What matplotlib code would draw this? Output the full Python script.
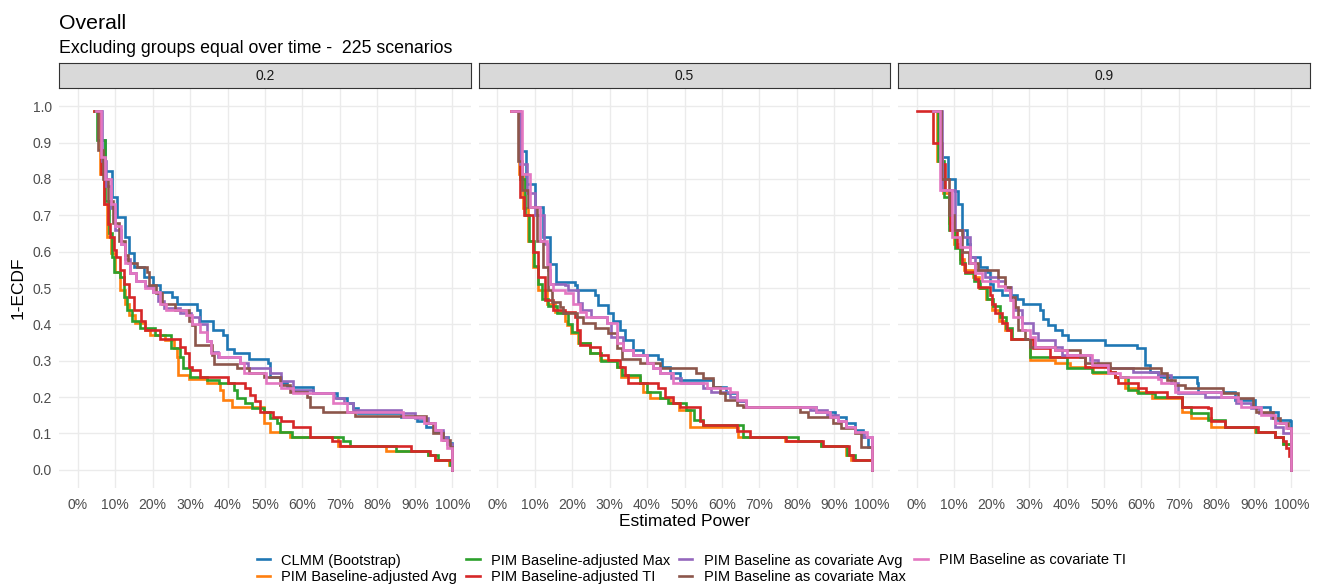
import matplotlib
matplotlib.use("Agg")
import matplotlib.pyplot as plt
import numpy as np

plt.rcParams["font.family"] = ["Liberation Sans", "DejaVu Sans"]

# facet labels and method names
facets = ["0.2", "0.5", "0.9"]
methods = ["CLMM (Bootstrap)", "PIM Baseline-adjusted Avg", "PIM Baseline-adjusted Max",
           "PIM Baseline-adjusted TI", "PIM Baseline as covariate Avg",
           "PIM Baseline as covariate Max", "PIM Baseline as covariate TI"]
colors = ["#1F77B4", "#FF7F0E", "#2CA02C", "#D62728", "#9467BD", "#8C564B", "#E377C2"]

# step points: (estimated power %, 1-ECDF after the step)
# ---- facet 0.2
clmm_02 = [(5.3,.988),(6.2,.906),(7.4,.823),(9.1,.75),(10.5,.695),(12.7,.64),(13.6,.595),(14.9,.558),
           (17.6,.53),(20.2,.508),(22.0,.49),(25.1,.476),(26.5,.457),(31.8,.44),(32.6,.41),(36.2,.384),
           (38.9,.37),(39.8,.331),(41.6,.32),(45.6,.306),(50.9,.293),(51.3,.256),(54.4,.238),(55.8,.229),
           (62.9,.21),(69.1,.197),(71.8,.183),(73.5,.169),(74.9,.157),(86.4,.146),(90.5,.133),(93.0,.119),
           (95.5,.105),(97.5,.09),(98.8,.073),(100,0)]
adjavg_02 = [(4.3,.988),(5.9,.814),(6.9,.732),(7.8,.64),(8.9,.595),(10.0,.544),(11.4,.494),(12.7,.457),
             (13.6,.425),(15.4,.403),(18.0,.384),(19.4,.37),(23.4,.357),(25.6,.334),(26.5,.311),(26.9,.26),
             (29.6,.25),(34.5,.238),(38.0,.22),(38.9,.192),(41.1,.174),(49.6,.128),(51.3,.105),(56.7,.091),
             (69.5,.066),(82.4,.053),(93.5,.04),(95.3,.027),(99.0,.013),(100,0)]
adjmax_02 = [(4.5,.988),(5.2,.906),(7.2,.74),(8.3,.65),(9.1,.586),(9.8,.544),(11.4,.53),(12.3,.476),
             (13.1,.44),(14.5,.41),(16.7,.389),(20.7,.37),(25.0,.334),(27.4,.311),(28.2,.279),(30.0,.256),
             (34.5,.247),(37.6,.238),(41.6,.22),(42.5,.197),(44.7,.183),(46.4,.169),(49.6,.16),(51.3,.142),
             (53.1,.128),(54.0,.105),(57.1,.091),(70.7,.08),(72.6,.066),(85.0,.053),(93.5,.04),(96.3,.027),
             (99.5,.013),(100,0)]
adjti_02 = [(4.3,.988),(6.2,.814),(6.9,.732),(8.0,.677),(8.7,.64),(9.6,.604),(10.3,.586),(11.4,.549),
            (12.3,.512),(13.6,.476),(15.1,.44),(16.8,.41),(18.0,.384),(22.0,.361),(27.4,.338),(28.7,.32),
            (29.6,.284),(30.5,.274),(32.7,.256),(40.2,.238),(44.7,.224),(46.0,.206),(47.3,.188),(48.7,.16),
            (52.2,.146),(54.4,.133),(57.5,.119),(62.0,.091),(67.8,.08),(70.0,.066),(89.0,.053),(94.0,.04),
            (95.5,.027),(100,0)]
cavg_02 = [(5.0,.988),(6.5,.85),(7.5,.78),(9.0,.72),(10.0,.66),(11.5,.62),(12.7,.58),(14.0,.54),
           (15.5,.52),(18.0,.505),(20.0,.49),(21.5,.465),(23.0,.445),(27.4,.43),(30.2,.42),(32.5,.40),
           (34.6,.355),(35.5,.325),(37.5,.31),(43.3,.293),(45.5,.279),(51.3,.265),(54.4,.245),(57.5,.22),
           (62.9,.21),(68.5,.197),(71.0,.183),(73.5,.165),(86.4,.157),(90.0,.142),(93.5,.128),(95.5,.11),
           (97.5,.09),(98.5,.07),(100,0)]
cmax_02 = [(4.5,.988),(5.5,.88),(6.8,.80),(8.0,.74),(9.5,.68),(11.0,.63),(12.5,.59),(13.5,.57),
           (15.8,.558),(18.5,.544),(18.9,.508),(21.0,.485),(22.5,.457),(26.0,.44),(29.6,.41),(30.5,.398),
           (31.3,.343),(35.8,.316),(36.3,.291),(42.5,.279),(45.6,.265),(49.6,.256),(54.0,.233),(56.7,.215),
           (61.1,.201),(62.0,.174),(65.5,.16),(74.0,.148),(93.0,.128),(94.8,.10),(97.5,.082),(99.3,.064),
           (100,0)]
cti_02 = [(4.8,.988),(6.3,.86),(7.4,.80),(8.8,.73),(10.0,.67),(11.5,.62),(12.5,.57),(14.0,.54),
          (15.6,.52),(18.0,.50),(20.0,.49),(22.0,.455),(23.5,.44),(29.0,.425),(30.5,.40),(32.7,.38),
          (34.5,.355),(35.6,.32),(37.6,.31),(43.3,.293),(44.5,.265),(50.4,.238),(54.4,.224),(57.5,.21),
          (68.2,.183),(71.8,.16),(86.9,.146),(92.5,.128),(95.3,.11),(97.0,.082),(98.5,.06),(100,0)]

# ---- facet 0.5
clmm_05 = [(4.0,.988),(6.0,.878),(7.8,.787),(10.0,.723),(12.3,.64),(14.1,.567),(15.8,.517),(20.7,.508),
           (21.2,.494),(26.1,.48),(27.0,.453),(29.6,.43),(31.0,.41),(32.7,.384),(34.0,.357),(36.3,.329),
           (39.0,.316),(43.0,.306),(43.9,.284),(46.0,.265),(48.8,.247),(57.7,.229),(61.2,.21),(63.9,.188),
           (66.5,.174),(85.2,.16),(90.1,.146),(93.2,.128),(95.5,.11),(97.7,.091),(99.0,.064),(100,0)]
adjavg_05 = [(3.8,.988),(5.9,.814),(7.0,.72),(8.3,.63),(9.6,.558),(10.9,.494),(13.2,.457),(15.4,.435),
             (18.0,.41),(18.5,.398),(19.8,.375),(21.6,.348),(24.7,.32),(27.4,.302),(31.9,.284),(33.1,.256),
             (38.1,.238),(39.0,.215),(40.7,.197),(46.1,.183),(48.5,.165),(51.4,.119),(64.3,.091),(76.8,.08),
             (86.5,.066),(93.2,.04),(94.5,.026),(100,0)]
adjmax_05 = [(3.9,.988),(6.0,.80),(7.3,.70),(8.5,.63),(9.8,.56),(11.0,.51),(12.0,.47),(13.5,.45),
             (16.0,.43),(19.0,.40),(20.0,.38),(21.8,.35),(24.9,.32),(27.6,.30),(31.9,.284),(33.3,.26),
             (38.0,.238),(40.0,.215),(43.5,.197),(45.5,.183),(50.5,.165),(52.5,.137),(55.0,.124),(65.6,.091),
             (80.3,.08),(86.5,.066),(93.5,.04),(95.5,.026),(100,0)]
adjti_05 = [(3.8,.988),(6.2,.75),(7.2,.70),(9.6,.60),(10.9,.53),(12.7,.467),(14.9,.44),(18.1,.435),
            (20.7,.42),(21.2,.384),(22.0,.343),(24.7,.338),(27.4,.316),(29.6,.302),(32.7,.284),(34.0,.26),
            (35.0,.238),(43.0,.224),(44.8,.201),(47.0,.183),(48.8,.174),(54.1,.133),(55.0,.124),(63.9,.108),
            (67.4,.091),(77.2,.08),(87.0,.066),(94.0,.041),(95.0,.026),(100,0)]
cavg_05 = [(4.0,.988),(6.0,.84),(8.0,.76),(10.0,.70),(12.5,.62),(13.6,.55),(14.2,.51),(18.0,.508),
           (19.0,.494),(21.5,.46),(22.5,.44),(25.0,.42),(29.2,.403),(30.5,.366),(33.6,.33),(36.3,.316),
           (39.9,.293),(41.6,.279),(43.4,.265),(46.5,.252),(49.0,.238),(55.0,.224),(57.0,.215),(62.1,.20),
           (63.9,.19),(66.5,.174),(83.5,.165),(88.0,.151),(91.0,.133),(93.0,.119),(95.5,.105),(98.0,.09),
           (100,0)]
cmax_05 = [(3.9,.988),(5.5,.85),(6.5,.77),(8.3,.723),(10.5,.63),(12.3,.558),(13.6,.494),(14.5,.462),
           (16.7,.448),(17.5,.43),(21.2,.42),(23.0,.403),(26.1,.389),(29.6,.375),(31.9,.334),(33.2,.306),
           (38.1,.293),(43.4,.279),(53.2,.265),(55.0,.252),(57.5,.229),(59.4,.21),(60.8,.192),(63.9,.178),
           (65.7,.174),(80.8,.16),(83.0,.146),(89.7,.128),(91.9,.114),(95.5,.10),(97.2,.064),(100,0)]
cti_05 = [(3.8,.988),(6.5,.814),(8.7,.723),(11.4,.63),(13.2,.567),(14.1,.512),(15.0,.494),(18.0,.485),
          (20.3,.457),(22.0,.435),(23.8,.42),(29.2,.403),(31.9,.348),(33.6,.33),(36.3,.316),(39.9,.293),
          (41.6,.279),(43.4,.265),(46.9,.238),(55.9,.224),(62.1,.215),(63.9,.192),(66.5,.174),(85.2,.16),
          (88.8,.146),(91.0,.133),(93.2,.119),(95.5,.105),(98.6,.091),(100,0)]

# ---- facet 0.9
clmm_09 = [(4.4,.988),(5.8,.86),(8.4,.80),(10.2,.768),(11.1,.732),(12.0,.659),(13.3,.622),(14.2,.586),
           (16.9,.558),(18.7,.544),(19.6,.512),(20.4,.494),(22.7,.48),(26.7,.471),(28.4,.457),(32.9,.44),
           (33.8,.416),(35.1,.398),(36.9,.384),(38.7,.37),(40.4,.357),(50.2,.343),(58.7,.334),(61.0,.288),
           (62.2,.27),(64.4,.256),(74.7,.238),(75.2,.215),(84.9,.192),(90.2,.174),(94.2,.16),(96.4,.137),
           (99.6,.133),(100,0)]
adjavg_09 = [(4.4,.988),(5.5,.85),(7.0,.76),(8.5,.68),(10.0,.62),(11.5,.58),(12.5,.55),(15.0,.53),
             (16.5,.50),(18.5,.47),(20.0,.44),(22.0,.41),(23.5,.385),(25.3,.361),(30.2,.302),(36.9,.293),
             (41.0,.284),(47.1,.265),(52.9,.256),(55.6,.224),(58.7,.215),(62.7,.197),(70.7,.16),(73.3,.142),
             (78.5,.119),(90.2,.105),(95.6,.091),(97.8,.07),(100,0)]
adjmax_09 = [(4.4,.988),(5.6,.85),(7.2,.75),(8.7,.66),(10.2,.61),(11.6,.57),(12.8,.54),(15.2,.52),
             (16.8,.50),(18.8,.47),(20.3,.45),(22.3,.42),(23.8,.39),(25.5,.361),(30.2,.311),(40.0,.279),
             (46.7,.27),(52.9,.256),(56.4,.22),(59.1,.21),(63.6,.201),(70.7,.174),(73.3,.156),(77.8,.137),
             (82.2,.119),(90.5,.105),(95.6,.091),(97.8,.07),(100,0)]
adjti_09 = [(0.0,.988),(4.4,.90),(6.7,.842),(7.6,.77),(8.9,.659),(10.7,.613),(12.0,.567),(12.9,.544),
            (15.6,.526),(16.4,.503),(19.6,.48),(20.0,.457),(20.9,.43),(22.7,.403),(24.0,.384),(25.3,.361),
            (31.1,.334),(35.6,.311),(44.8,.284),(51.6,.27),(52.9,.256),(53.8,.238),(59.1,.224),(61.3,.215),
            (66.7,.201),(70.7,.174),(77.8,.169),(78.7,.133),(82.2,.119),(91.1,.105),(95.6,.091),(97.8,.078),
            (98.7,.06),(99.4,.037),(100,0)]
cavg_09 = [(4.3,.988),(6.7,.77),(10.2,.659),(12.4,.64),(14.2,.586),(15.6,.55),(18.2,.53),(21.8,.52),
           (23.6,.503),(25.3,.467),(26.2,.44),(28.0,.403),(31.1,.375),(32.4,.357),(36.9,.338),(38.7,.316),
           (46.2,.302),(48.4,.288),(51.1,.279),(57.8,.27),(64.4,.26),(68.0,.238),(69.8,.21),(76.9,.201),
           (85.3,.183),(89.3,.169),(91.5,.156),(94.7,.142),(95.6,.119),(97.8,.10),(100,0)]
cmax_09 = [(4.3,.988),(6.5,.80),(8.5,.70),(10.0,.66),(12.0,.60),(14.0,.57),(16.4,.55),(21.8,.53),
           (23.6,.503),(24.9,.475),(26.2,.448),(27.1,.384),(28.9,.361),(30.2,.338),(36.9,.33),(43.6,.311),
           (44.9,.293),(51.6,.279),(65.3,.265),(66.7,.247),(68.9,.233),(71.6,.224),(81.8,.21),(85.8,.197),
           (89.8,.174),(90.7,.16),(95.1,.142),(96.9,.128),(99.1,.114),(100,0)]
cti_09 = [(4.3,.988),(6.2,.77),(9.3,.64),(11.6,.613),(14.2,.57),(15.6,.54),(17.3,.52),(21.8,.505),
          (23.6,.494),(24.9,.467),(25.8,.42),(28.0,.384),(30.2,.366),(31.6,.338),(36.9,.329),(40.0,.316),
          (46.7,.288),(51.1,.265),(54.2,.256),(64.4,.25),(65.3,.238),(68.9,.215),(81.3,.201),(85.8,.188),
          (86.7,.174),(92.0,.151),(95.6,.128),(98.7,.114),(100,0)]

curves = {
    "0.2": [clmm_02, adjavg_02, adjmax_02, adjti_02, cavg_02, cmax_02, cti_02],
    "0.5": [clmm_05, adjavg_05, adjmax_05, adjti_05, cavg_05, cmax_05, cti_05],
    "0.9": [clmm_09, adjavg_09, adjmax_09, adjti_09, cavg_09, cmax_09, cti_09],
}

W, H = 1320, 584
fig = plt.figure(figsize=(W / 100, H / 100), dpi=100)

panel_left = [59, 478.5, 898]
panel_w = 412
top, bottom = 88, 488

grid_col = "#EBEBEB"
axes = []
for i, f in enumerate(facets):
    ax = fig.add_axes([panel_left[i] / W, 1 - bottom / H, panel_w / W, (bottom - top) / H])
    for pts, c, m in zip(curves[f], colors, methods):
        xs = [p[0] for p in pts]
        ys = [p[1] for p in pts]
        ax.step(xs, ys, where="post", color=c, lw=1.9, label=m, solid_joinstyle="miter")
    ax.set_xlim(-5, 105)
    ax.set_ylim(-0.05, 1.05)
    ax.set_xticks(np.arange(0, 101, 10))
    ax.set_xticklabels([f"{v}%" for v in range(0, 101, 10)])
    ax.set_yticks(np.arange(0, 1.01, 0.1))
    ax.set_yticklabels([f"{v:.1f}" for v in np.arange(0, 1.01, 0.1)])
    ax.grid(True, color=grid_col, lw=1.0)
    ax.set_axisbelow(True)
    for s in ax.spines.values():
        s.set_visible(False)
    ax.tick_params(length=0, labelsize=10, colors="#4D4D4D")
    ax.tick_params(axis="x", pad=7)
    ax.tick_params(axis="y", pad=5)
    if i > 0:
        ax.tick_params(labelleft=False)
    axes.append(ax)

    # facet strip
    st = fig.add_axes([panel_left[i] / W, 1 - top / H, panel_w / W, 25 / H])
    st.set_facecolor("#D9D9D9")
    st.set_xticks([])
    st.set_yticks([])
    for s in st.spines.values():
        s.set_color("#333333")
        s.set_linewidth(0.8)
    st.text(0.5, 0.48, f, ha="center", va="center", fontsize=10, color="#1A1A1A",
            transform=st.transAxes)

fig.text(59 / W, 1 - 29.3 / H, "Overall", fontsize=15.3, va="baseline", ha="left")
fig.text(59 / W, 1 - 52.7 / H, "Excluding groups equal over time -  225 scenarios",
         fontsize=12.8, va="baseline", ha="left")
fig.text(684.5 / W, 1 - 521 / H, "Estimated Power", fontsize=12.5, ha="center", va="center")
fig.text(18 / W, 1 - 288 / H, "1-ECDF", fontsize=12.5, ha="center", va="center", rotation=90)

handles, labels = axes[0].get_legend_handles_labels()
fig.legend(handles, labels, ncol=4, loc="upper left", bbox_to_anchor=(256.7 / W, 1 - 553.5 / H),
           frameon=False, fontsize=10.5, handlelength=0.93, handletextpad=0.77,
           columnspacing=0.6, labelspacing=0.15, borderpad=0, borderaxespad=0)

fig.savefig("out.png", dpi=100, facecolor="white")
